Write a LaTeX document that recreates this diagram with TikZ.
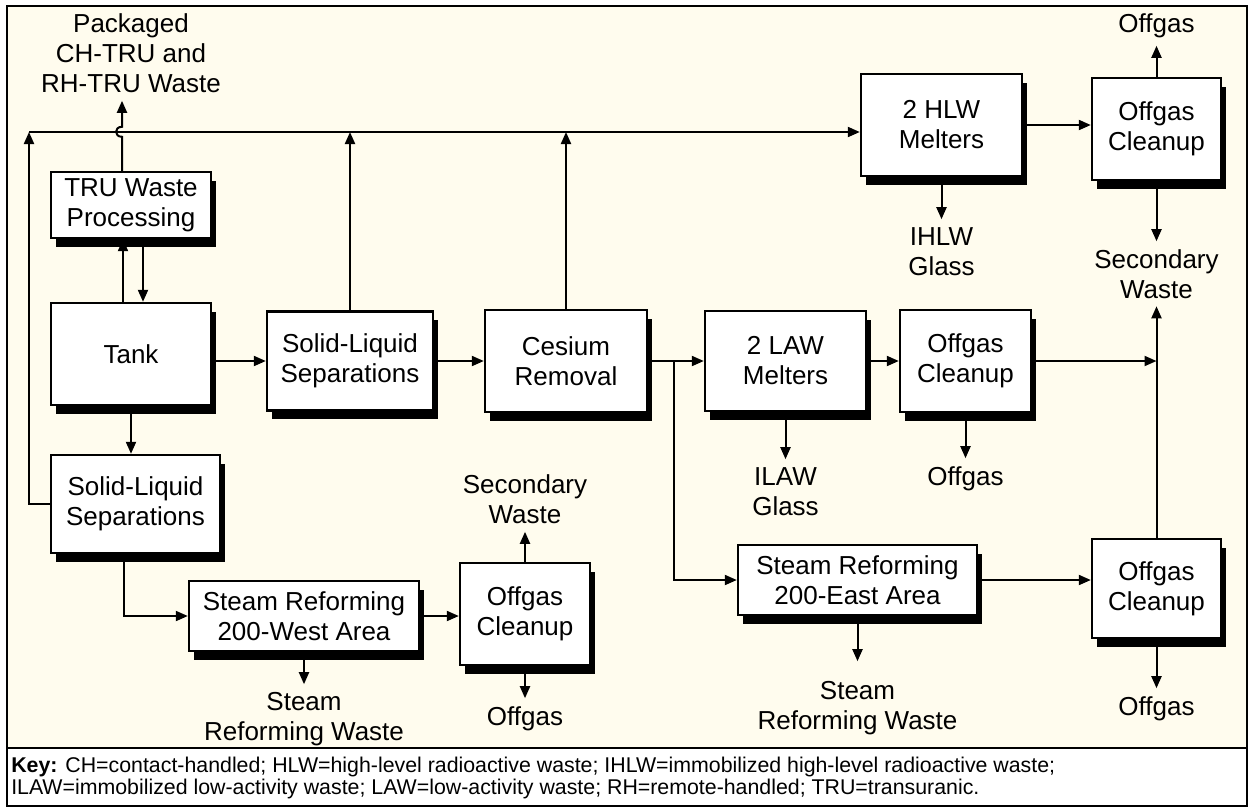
\documentclass[tikz,border=0pt]{standalone}
\usepackage{fontspec}
\setmainfont{Liberation Sans}
\usetikzlibrary{positioning, arrows.meta, shadows}

\definecolor{cream}{RGB}{255,252,238}

\begin{document}
\begin{tikzpicture}[x=0.75pt, y=-0.75pt,
    box/.style={draw, line width=1.8pt, fill=white, align=center, inner sep=0pt,
      font=\fontsize{19.5pt}{22.5pt}\selectfont,
      drop shadow={shadow xshift=3.9pt, shadow yshift=-6.5pt, fill=black, opacity=1}},
    lbl/.style={align=center, inner sep=0pt, outer sep=6pt,
      font=\fontsize{19.5pt}{22.5pt}\selectfont},
    flow/.style={line width=1.5pt, -{Triangle[length=9pt, width=7.5pt]}}]

  % frame and key area
  \useasboundingbox (0,0) rectangle (1253,811);
  \fill[white] (0,0) rectangle (1253,811);
  \fill[cream] (7,6) rectangle (1247,748);
  \draw[line width=1.5pt] (7,6) rectangle (1247,806);
  \draw[line width=2.2pt] (7,748) -- (1247,748);

  % process boxes
  \node[box, minimum width=120pt, minimum height=49.5pt] (tru) at (131,205) {TRU Waste\\Processing};
  \node[box, minimum width=120pt, minimum height=76.5pt] (tank) at (131,354) {Tank};
  \node[box, minimum width=126.75pt, minimum height=73.5pt] (slsa) at (135.5,504) {Solid-Liquid\\Separations};
  \node[box, minimum width=124.5pt, minimum height=74.25pt] (slsb) at (350,361) {Solid-Liquid\\Separations};
  \node[box, minimum width=121.5pt, minimum height=76.5pt] (cs) at (566,361) {Cesium\\Removal};
  \node[box, minimum width=120.75pt, minimum height=75pt] (law) at (785.5,361) {2 LAW\\Melters};
  \node[box, minimum width=98.25pt, minimum height=76.5pt] (offm) at (965.5,361) {Offgas\\Cleanup};
  \node[box, minimum width=120.75pt, minimum height=76.5pt] (hlw) at (941.5,125) {2 HLW\\Melters};
  \node[box, minimum width=96.75pt, minimum height=76.5pt] (offt) at (1156.5,129) {Offgas\\Cleanup};
  \node[box, minimum width=179.25pt, minimum height=52.5pt] (sre) at (857.5,580) {Steam Reforming\\200-East Area};
  \node[box, minimum width=172.5pt, minimum height=52.5pt] (srw) at (304,616) {Steam Reforming\\200-West Area};
  \node[box, minimum width=97.5pt, minimum height=76.5pt] (offw) at (525,614) {Offgas\\Cleanup};
  \node[box, minimum width=96.75pt, minimum height=74.25pt] (offr) at (1156.5,588.5) {Offgas\\Cleanup};

  % outputs
  \node[lbl, above=52.5pt of tru.north] (pkg) {Packaged\\CH-TRU and\\RH-TRU Waste};
  \node[lbl, below=31.5pt of hlw.south] (ihlw) {IHLW\\Glass};
  \node[lbl, above=23.25pt of offt.north] (ogt) {Offgas};
  \node[lbl, below=45pt of offt.south] (sect) {Secondary\\Waste};
  \node[lbl, below=35.25pt of law.south] (ilaw) {ILAW\\Glass};
  \node[lbl, below=33.75pt of offm.south] (ogm) {Offgas};
  \node[lbl, above=22.5pt of offw.north] (secw) {Secondary\\Waste};
  \node[lbl, below=24pt of offw.south] (ogw) {Offgas};
  \node[lbl, below=24pt of srw.south] (srww) {Steam\\Reforming Waste};
  \node[lbl, below=42.75pt of sre.south] (srew) {Steam\\Reforming Waste};
  \node[lbl, below=36.75pt of offr.south] (ogr) {Offgas};

  % connectors
  \coordinate (tl) at (29,132);
  \coordinate (jl) at ([xshift=-6.75pt]tru.north);
  \coordinate (tu) at ([xshift=-6pt]tank.north);
  \coordinate (td) at ([xshift=9pt]tru.south);
  \coordinate (sd) at ([xshift=-8.6pt]slsa.south);
  \coordinate (br) at ([xshift=19.5pt]cs.east);

  \draw[flow] (jl) -- ++(0,-34) .. controls +(-8,0) and +(-8,0) .. ++(0,-10) -- (jl |- pkg.south);
  \draw[flow] (tu) -- (tu |- tru.south);
  \draw[flow] (td) -- (td |- tank.north);
  \draw[flow] (slsa.west) -| (tl);
  \draw[flow] (tl) -- (tl -| hlw.west);
  \draw[flow] (slsb.north) -- (slsb.north |- tl);
  \draw[flow] (cs.north) -- (cs.north |- tl);
  \draw[flow] (tank.east |- slsb.west) -- (slsb.west);
  \draw[flow] (tank.south) -- (tank.south |- slsa.north);
  \draw[flow] (sd) |- (srw.west);
  \draw[flow] (srw.east) -- (srw.east -| offw.west);
  \draw[flow] (offw.north) -- (secw.south);
  \draw[flow] (offw.south) -- (ogw.north);
  \draw[flow] (srw.south) -- (srww.north);
  \draw[flow] (slsb.east) -- (cs.west);
  \draw[flow] (cs.east) -- (law.west);
  \draw[flow] (br) |- (sre.west);
  \draw[flow] (law.east) -- (offm.west);
  \draw[flow] (law.south) -- (law.south |- ilaw.north);
  \draw[flow] (offm.south) -- (ogm.north);
  \draw[flow] (offm.east) -- (offm.east -| offr.north);
  \draw[flow] (offr.north) -- (offr.north |- sect.south);
  \draw[flow] (hlw.east) -- (hlw.east -| offt.west);
  \draw[flow] (hlw.south) -- (ihlw.north);
  \draw[flow] (offt.north) -- (ogt.south);
  \draw[flow] (offt.south) -- (sect.north);
  \draw[flow] (sre.east) -- (sre.east -| offr.west);
  \draw[flow, shorten >=9pt] (sre.south) -- (srew.north);
  \draw[flow] (offr.south) -- (ogr.north);

  % key
  \node[anchor=north west, align=left, inner sep=0pt,
    font=\fontsize{16pt}{16.5pt}\selectfont] (key) at (11,757)
    {\textbf{Key:} CH=contact-handled; HLW=high-level radioactive waste; IHLW=immobilized high-level radioactive waste;\\
     ILAW=immobilized low-activity waste; LAW=low-activity waste; RH=remote-handled; TRU=transuranic.};
\end{tikzpicture}
\end{document}
